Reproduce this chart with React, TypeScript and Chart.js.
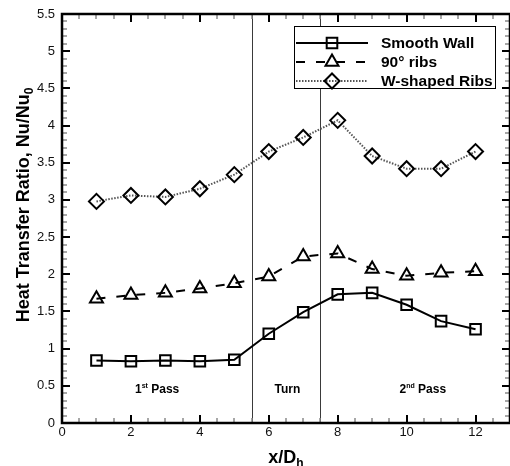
import React, { useEffect, useRef } from "react";
import { Chart, registerables } from "chart.js";
import { drawPoint } from "chart.js/helpers";

Chart.register(...registerables);

// Streamwise stations x/Dh
const stations = [1, 2, 3, 4, 5, 6, 7, 8, 9, 10, 11, 12];
// Nu/Nu0 per configuration
const smoothWall = [0.84, 0.83, 0.84, 0.83, 0.85, 1.2, 1.49, 1.73, 1.75, 1.59, 1.37, 1.26];
const ribs90 = [1.67, 1.72, 1.75, 1.81, 1.88, 1.97, 2.24, 2.28, 2.07, 1.98, 2.02, 2.04];
const wShapedRibs = [2.98, 3.06, 3.04, 3.15, 3.34, 3.65, 3.84, 4.07, 3.59, 3.42, 3.42, 3.65];
const seriesNames = ["Smooth Wall", "90° ribs", "W-shaped Ribs"];

// Boundaries of the turn region and the labels of each region
const regionBounds = [5.5, 7.5];
const regionNames = [
  { main: "1", sup: "st", rest: " Pass", at: 2.76 },
  { main: "Turn", sup: "", rest: "", at: 6.54 },
  { main: "2", sup: "nd", rest: " Pass", at: 10.47 },
];
const regionLabelLevel = 0.47;

const FONT = '"Liberation Sans", Arial, sans-serif';

const styles = [
  { pointStyle: "rect", borderDash: [] as number[], borderWidth: 2, color: "#000" },
  { pointStyle: "triangle", borderDash: [9, 11], borderWidth: 2, color: "#000" },
  { pointStyle: "rectRot", borderDash: [1.5, 1.5], borderWidth: 2, color: "#555" },
];

function line(ctx: CanvasRenderingContext2D, x1: number, y1: number, x2: number, y2: number) {
  ctx.beginPath();
  ctx.moveTo(x1, y1);
  ctx.lineTo(x2, y2);
  ctx.stroke();
}

function drawSupText(
  ctx: CanvasRenderingContext2D,
  main: string,
  sup: string,
  rest: string,
  cx: number,
  baseline: number,
  size: number
) {
  const big = `bold ${size}px ${FONT}`;
  const small = `bold ${Math.round(size * 0.62)}px ${FONT}`;
  ctx.font = big;
  const w1 = ctx.measureText(main).width;
  const w3 = ctx.measureText(rest).width;
  ctx.font = small;
  const w2 = ctx.measureText(sup).width;
  let x = cx - (w1 + w2 + w3) / 2;
  ctx.textAlign = "left";
  ctx.textBaseline = "alphabetic";
  ctx.font = big;
  ctx.fillText(main, x, baseline);
  x += w1;
  ctx.font = small;
  ctx.fillText(sup, x, baseline - size * 0.42);
  x += w2;
  ctx.font = big;
  ctx.fillText(rest, x, baseline);
}

const decorations = {
  id: "decorations",
  beforeDatasetsDraw(chart: any) {
    const { ctx, chartArea: a, scales } = chart;
    const xs = scales.x;
    const ys = scales.y;
    ctx.save();
    ctx.strokeStyle = "#3a3a3a";
    ctx.lineWidth = 1;
    regionBounds.forEach((v) => {
      const px = Math.round(xs.getPixelForValue(v)) + 0.5;
      line(ctx, px, a.top, px, a.bottom);
    });
    ctx.fillStyle = "#000";
    const base = ys.getPixelForValue(regionLabelLevel) + 4.5;
    regionNames.forEach((r) => {
      drawSupText(ctx, r.main, r.sup, r.rest, xs.getPixelForValue(r.at), base, 12);
    });
    ctx.restore();
  },
  afterDatasetsDraw(chart: any) {
    const { ctx, chartArea: a, scales } = chart;
    const xs = scales.x;
    const ys = scales.y;
    ctx.save();

    // inward tick marks on all four sides
    for (let i = 0; i <= 55; i++) {
      const v = i / 10;
      const major = i % 5 === 0;
      const py = Math.round(ys.getPixelForValue(v));
      ctx.strokeStyle = major ? "#000" : "#8a8a8a";
      ctx.lineWidth = major ? 2 : 1.5;
      const len = major ? 8 : 5;
      line(ctx, a.left, py, a.left + len, py);
      line(ctx, a.right - len, py, a.right, py);
    }
    for (let i = 0; i <= 26; i++) {
      const v = i / 2;
      const major = v % 2 === 0;
      const px = Math.round(xs.getPixelForValue(v));
      ctx.strokeStyle = major ? "#000" : "#8a8a8a";
      ctx.lineWidth = major ? 2 : 1.5;
      const len = major ? 8 : 5;
      line(ctx, px, a.bottom - len, px, a.bottom);
      line(ctx, px, a.top, px, a.top + len);
    }

    // frame
    ctx.strokeStyle = "#000";
    ctx.lineWidth = 2.5;
    ctx.strokeRect(a.left, a.top, a.right - a.left, a.bottom - a.top);

    // axis titles
    ctx.fillStyle = "#000";
    ctx.save();
    ctx.translate(29, 205);
    ctx.rotate(-Math.PI / 2);
    ctx.font = `bold 18px ${FONT}`;
    const yMain = "Heat Transfer Ratio, Nu/Nu";
    const wMain = ctx.measureText(yMain).width;
    ctx.font = `bold 12px ${FONT}`;
    const wSub = ctx.measureText("0").width;
    const sx = -(wMain + wSub) / 2;
    ctx.textAlign = "left";
    ctx.textBaseline = "alphabetic";
    ctx.font = `bold 18px ${FONT}`;
    ctx.fillText(yMain, sx, 0);
    ctx.font = `bold 12px ${FONT}`;
    ctx.fillText("0", sx + wMain, 4);
    ctx.restore();

    ctx.font = `bold 18px ${FONT}`;
    const xMain = "x/D";
    const wx = ctx.measureText(xMain).width;
    ctx.font = `bold 12px ${FONT}`;
    const wh = ctx.measureText("h").width;
    const cx = (a.left + a.right) / 2;
    const tx = cx - (wx + wh) / 2;
    ctx.textAlign = "left";
    ctx.font = `bold 18px ${FONT}`;
    ctx.fillText(xMain, tx, 463);
    ctx.font = `bold 12px ${FONT}`;
    ctx.fillText("h", tx + wx, 467);

    // legend
    const lx = 294, ly = 26, lw = 201, lh = 62;
    ctx.fillStyle = "#fff";
    ctx.fillRect(lx, ly, lw, lh);
    ctx.strokeStyle = "#000";
    ctx.lineWidth = 1;
    ctx.strokeRect(lx + 0.5, ly + 0.5, lw, lh);
    const rows = [43, 62, 81];
    styles.forEach((s, i) => {
      const ry = rows[i];
      ctx.strokeStyle = s.color;
      ctx.lineWidth = s.borderWidth;
      ctx.setLineDash(s.borderDash);
      line(ctx, 296, ry, 368, ry);
      ctx.setLineDash([]);
      ctx.strokeStyle = "#000";
      ctx.fillStyle = "rgba(0,0,0,0)";
      ctx.lineWidth = 2;
      drawPoint(ctx, { pointStyle: s.pointStyle, rotation: 0, radius: 7.5, borderWidth: 2 } as any, 332, ry);
      ctx.fillStyle = "#000";
      ctx.font = `bold 15.5px ${FONT}`;
      ctx.textAlign = "left";
      ctx.textBaseline = "middle";
      ctx.fillText(seriesNames[i], 381, ry + 1);
    });

    ctx.restore();
  },
};

export default function App() {
  const canvasRef = useRef<HTMLCanvasElement>(null);

  useEffect(() => {
    if (!canvasRef.current) return;
    const series = [smoothWall, ribs90, wShapedRibs];
    const chart = new Chart(canvasRef.current, {
      type: "line",
      data: {
        datasets: series.map((vals, i) => ({
          label: seriesNames[i],
          data: stations.map((x, j) => ({ x, y: vals[j] })),
          borderColor: styles[i].color,
          borderWidth: styles[i].borderWidth,
          borderDash: styles[i].borderDash,
          pointStyle: styles[i].pointStyle as any,
          pointRadius: 7.5,
          pointBorderWidth: 2,
          pointBorderColor: "#000",
          pointBackgroundColor: "rgba(0,0,0,0)",
          tension: 0,
          fill: false,
        })),
      },
      options: {
        animation: false,
        responsive: false,
        events: [],
        layout: { autoPadding: false, padding: { top: 14, right: -1, left: 0, bottom: 0 } },
        plugins: { legend: { display: false }, tooltip: { enabled: false } },
        scales: {
          x: {
            type: "linear",
            min: 0,
            max: 13,
            afterFit: (s: any) => {
              s.height = 43;
              s.paddingLeft = 0;
              s.paddingRight = 0;
            },
            border: { display: false },
            grid: { display: false, drawTicks: false },
            ticks: {
              stepSize: 2,
              includeBounds: false,
              padding: 2,
              color: "#111",
              font: { family: FONT, size: 13 },
            },
          },
          y: {
            min: 0,
            max: 5.5,
            afterFit: (s: any) => {
              s.width = 62;
              s.paddingTop = 0;
              s.paddingBottom = 0;
            },
            border: { display: false },
            grid: { display: false, drawTicks: false },
            ticks: {
              stepSize: 0.5,
              padding: 7,
              color: "#111",
              font: { family: FONT, size: 13 },
              callback: (v: any) => String(v),
            },
          },
        },
      },
      plugins: [decorations],
    });
    return () => chart.destroy();
  }, []);

  return (
    <div style={{ position: "absolute", left: 0, top: 0, width: 510, height: 466, background: "#fff" }}>
      <canvas ref={canvasRef} width={510} height={466} />
    </div>
  );
}
